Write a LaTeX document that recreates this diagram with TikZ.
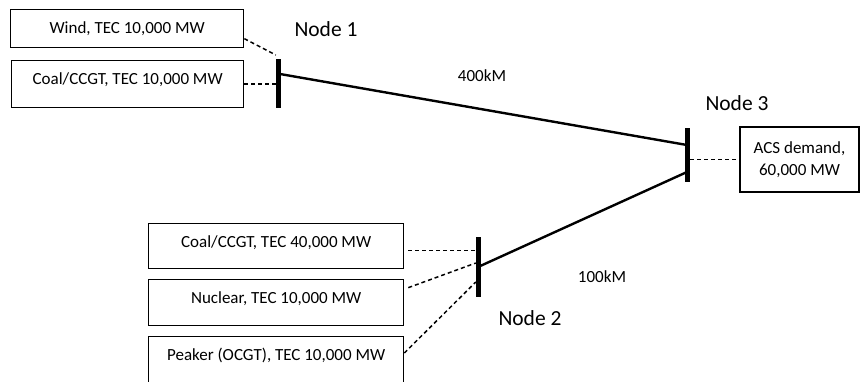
\documentclass[tikz,border=0pt]{standalone}
\usepackage{fontspec}
\setmainfont{Carlito}
\usetikzlibrary{positioning}
\tikzset{
  genbox/.style={draw, line width=1.3pt, align=center, anchor=north west, inner xsep=2pt, inner ysep=4pt,
                 text height=20pt, font=\fontsize{17}{20}\selectfont},
  loadbox/.style={draw, line width=1.3pt, align=center, inner sep=3pt, font=\fontsize{17}{22}\selectfont},
  busbar/.style={fill=black, minimum width=5pt, inner sep=0pt},
  busname/.style={font=\fontsize{21.5}{25}\selectfont},
  dist/.style={font=\fontsize{17}{20}\selectfont},
  link/.style={line width=2.4pt},
  tap/.style={line width=1.5pt, dash pattern=on 4pt off 3pt},
}
\begin{document}
\begin{tikzpicture}[x=1pt, y=-1pt]
    \useasboundingbox (0,0) rectangle (861,381);
    % generators
    \node[genbox, minimum width=233pt, minimum height=38pt, text depth=10pt] (wind)  at (10,9)   {Wind, TEC 10,000 MW};
    \node[genbox, minimum width=232pt, minimum height=47pt, text depth=19pt] (coalA) at (11,60)  {Coal/CCGT, TEC 10,000 MW};
    \node[genbox, minimum width=255pt, minimum height=45pt, text depth=17pt] (coalB) at (148,223) {Coal/CCGT, TEC 40,000 MW};
    \node[genbox, minimum width=255pt, minimum height=46pt, text depth=18pt] (nucl)  at (148,279) {Nuclear, TEC 10,000 MW};
    \node[genbox, minimum width=255pt, minimum height=60pt, text depth=32pt] (peak)  at (148,336) {Peaker (OCGT), TEC 10,000 MW};
    % demand
    \node[loadbox, minimum width=119pt, minimum height=65pt] (acs) at (799.5,159.5) {ACS demand,\\60,000 MW};
    % bus bars
    \node[busbar, minimum height=49pt] (busA) at (278.5,83.5) {};
    \node[busbar, minimum height=60pt] (busB) at (478.5,267)  {};
    \node[busbar, minimum height=54pt] (busC) at (687.5,155)  {};
    \node[busname] (nA) at (326,29)  {Node 1};
    \node[busname] (nB) at (530,318) {Node 2};
    \node[busname] (nC) at (737,103) {Node 3};
    % lines
    \coordinate (pA) at (280,74);
    \coordinate (pC1) at (687,145);
    \coordinate (pB) at (478,267);
    \coordinate (pC2) at (687,172);
    \draw[link] (pA) -- (pC1);
    \draw[link] (pB) -- (pC2);
    \node[dist] (dA) at (482,76)  {400kM};
    \node[dist] (dB) at (602,277) {100kM};
    % taps
    \draw[tap] ([yshift=-10pt]wind.east) -- ([yshift=28.5pt]busA.west);
    \draw[tap] (coalA.east) -- (coalA.east -| busA.west);
    \draw[tap] ([xshift=4pt, yshift=-4.5pt]coalB.east) -- ([yshift=-4.5pt]coalB.east -| busB.west);
    \draw[tap] ([xshift=4pt, yshift=15pt]nucl.east) -- ([yshift=4pt]busB.west);
    \draw[tap] ([yshift=-17pt]peak.north east) -- ([yshift=-15pt]busB.west);
    \draw[tap] (busC.east |- acs.west) -- (acs.west);
\end{tikzpicture}
\end{document}
